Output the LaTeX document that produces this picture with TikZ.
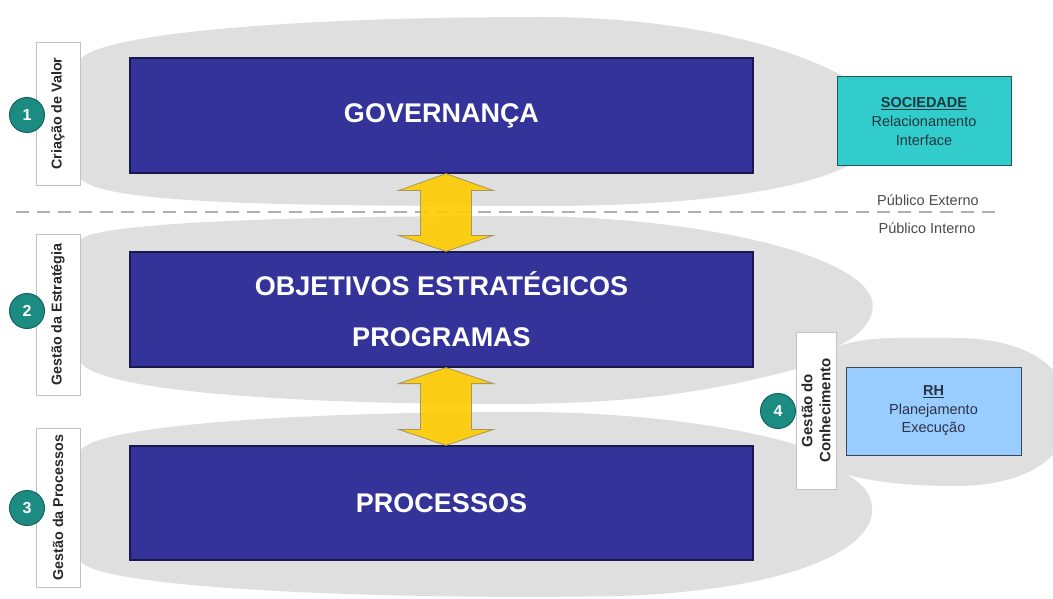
\documentclass[tikz,border=0pt]{standalone}
\usepackage{fontspec}
\setmainfont{Liberation Sans}
\usetikzlibrary{calc}
\definecolor{bandgray}{RGB}{223,223,223}
\definecolor{boxblue}{RGB}{51,51,153}
\definecolor{boxedge}{RGB}{25,25,80}
\definecolor{arrowyellow}{RGB}{255,204,0}
\definecolor{arrowedge}{RGB}{165,150,100}
\definecolor{tealc}{RGB}{28,140,130}
\definecolor{tealdark}{RGB}{20,100,95}
\definecolor{socfill}{RGB}{51,204,204}
\definecolor{socedge}{RGB}{30,90,90}
\definecolor{soctext}{RGB}{30,55,60}
\definecolor{rhfill}{RGB}{153,204,255}
\definecolor{rhedge}{RGB}{60,70,90}
\definecolor{rhtext}{RGB}{45,50,70}
\definecolor{labeledge}{RGB}{195,195,195}
\definecolor{labeltext}{RGB}{40,40,40}
\definecolor{pubgray}{RGB}{75,75,75}
\definecolor{dashgray}{RGB}{175,175,175}
\begin{document}
\begin{tikzpicture}[x=1pt,y=-1pt,
  band/.style={fill=bandgray,draw=none},
  bluebox/.style={draw=boxedge,line width=1.2pt,fill=boxblue,text=white,
    font=\fontsize{27}{51}\selectfont\bfseries,align=center,inner sep=0pt,
    minimum width=623pt},
  labelbox/.style={draw=labeledge,line width=0.8pt,fill=white,rotate=90,
    inner sep=0pt,text=labeltext,font=\fontsize{14.3}{18}\selectfont\bfseries,
    align=center},
  numcirc/.style={circle,fill=tealc,draw=tealdark,line width=1pt,
    minimum size=35pt,inner sep=0pt,text=white,
    font=\fontsize{16}{16}\selectfont\bfseries},
  yarrow/.style={fill=arrowyellow,fill opacity=0.9,draw=arrowedge,
    line width=0.8pt,line join=miter},
  sidebox/.style={line width=1pt,inner sep=0pt,minimum width=174pt,
    minimum height=89pt,align=center,font=\fontsize{14.5}{19}\selectfont},
  pubtext/.style={text=pubgray,font=\fontsize{14.5}{15}\selectfont,inner sep=0pt}
]
\clip (0,0) rectangle (1053,599);
\fill[white] (0,0) rectangle (1053,599);

% gray bands
\fill[band] (80,60) .. controls (95,35) and (280,17) .. (540,17)
  .. controls (680,17) and (790,45) .. (850,80) -- (850,165)
  .. controls (800,190) and (700,206) .. (540,206)
  .. controls (300,206) and (100,205) .. (80,178) -- cycle;
\fill[band] (80,240) .. controls (95,222) and (300,216) .. (520,216)
  .. controls (700,216) and (860,255) .. (872,300)
  .. controls (876,320) and (860,335) .. (840,345) -- (800,368)
  .. controls (700,395) and (620,404) .. (500,404)
  .. controls (300,404) and (100,392) .. (80,362) -- cycle;
\fill[band] (80,451) .. controls (95,425) and (300,412) .. (520,412)
  .. controls (660,412) and (760,432) .. (810,449) -- (830,468)
  .. controls (860,478) and (873,492) .. (872,512)
  .. controls (870,550) and (790,590) .. (620,596)
  .. controls (400,600) and (100,590) .. (80,561) -- cycle;
\fill[band] (830,350) .. controls (860,335) and (900,338) .. (955,338)
  .. controls (1030,338) and (1070,370) .. (1070,412)
  .. controls (1070,455) and (1030,486) .. (955,486)
  .. controls (900,486) and (860,480) .. (830,470) -- cycle;

% dashed separator
\draw[dashgray,line width=2.5pt,dash pattern=on 13pt off 8pt] (16,212) -- (1000,212);

% blue boxes
\node[bluebox,minimum height=115pt] (gov) at (441.5,115.5) {GOVERNANÇA};
\node[bluebox,minimum height=115pt] (obj) at (441.5,309.5) {OBJETIVOS ESTRATÉGICOS\\PROGRAMAS};
\node[bluebox,minimum height=114pt] (proc) at (441.5,503) {PROCESSOS};

% double arrows
\filldraw[yarrow] let \p1=($(gov.south)+(4.5,0)$), \p2=($(obj.north)+(4.5,0)$) in
  (\x1,\y1) -- (\x1+47.5pt,\y1-17pt) -- (\x1+25.5pt,\y1-17pt) -- (\x1+25.5pt,\y2+16pt)
  -- (\x1+47.5pt,\y2+16pt) -- (\x1,\y2) -- (\x1-47.5pt,\y2+16pt) -- (\x1-25.5pt,\y2+16pt)
  -- (\x1-25.5pt,\y1-17pt) -- (\x1-47.5pt,\y1-17pt) -- cycle;
\filldraw[yarrow] let \p1=($(obj.south)+(4.5,0)$), \p2=($(proc.north)+(4.5,0)$) in
  (\x1,\y1) -- (\x1+47.5pt,\y1-16pt) -- (\x1+25.5pt,\y1-16pt) -- (\x1+25.5pt,\y2+16pt)
  -- (\x1+47.5pt,\y2+16pt) -- (\x1,\y2) -- (\x1-47.5pt,\y2+16pt) -- (\x1-25.5pt,\y2+16pt)
  -- (\x1-25.5pt,\y1-16pt) -- (\x1-47.5pt,\y1-16pt) -- cycle;

% label boxes
\node[labelbox,minimum width=143pt,minimum height=44pt] (l1) at (58,113.5) {Criação de Valor};
\node[labelbox,minimum width=161pt,minimum height=44pt] (l2) at (58,314.5) {Gestão da Estratégia};
\node[labelbox,minimum width=159pt,minimum height=44pt] (l3) at (58,507.5) {Gestão da Processos};
\node[labelbox,minimum width=157pt,minimum height=40pt,
  font=\fontsize{15}{18}\selectfont\bfseries] (l4) at (816,410.5) {Gestão do\\Conhecimento};

% number circles
\node[numcirc] (c1) at (27,115) {1};
\node[numcirc] (c2) at (27,311) {2};
\node[numcirc] (c3) at (27,508) {3};
\node[numcirc] (c4) at (778,411) {4};

% side boxes
\node[sidebox,draw=socedge,fill=socfill,text=soctext] (soc) at (924,121.5)
  {\textbf{\underline{SOCIEDADE}}\\Relacionamento\\Interface};
\node[sidebox,draw=rhedge,fill=rhfill,text=rhtext,minimum width=175pt,
  minimum height=88pt,font=\fontsize{14.5}{18.5}\selectfont] (rh) at (933.5,411)
  {\textbf{\underline{RH}}\\Planejamento\\Execução};

% public labels
\node[pubtext] (pext) at (928,200) {Público Externo};
\node[pubtext] (pint) at (927,228) {Público Interno};
\end{tikzpicture}
\end{document}
